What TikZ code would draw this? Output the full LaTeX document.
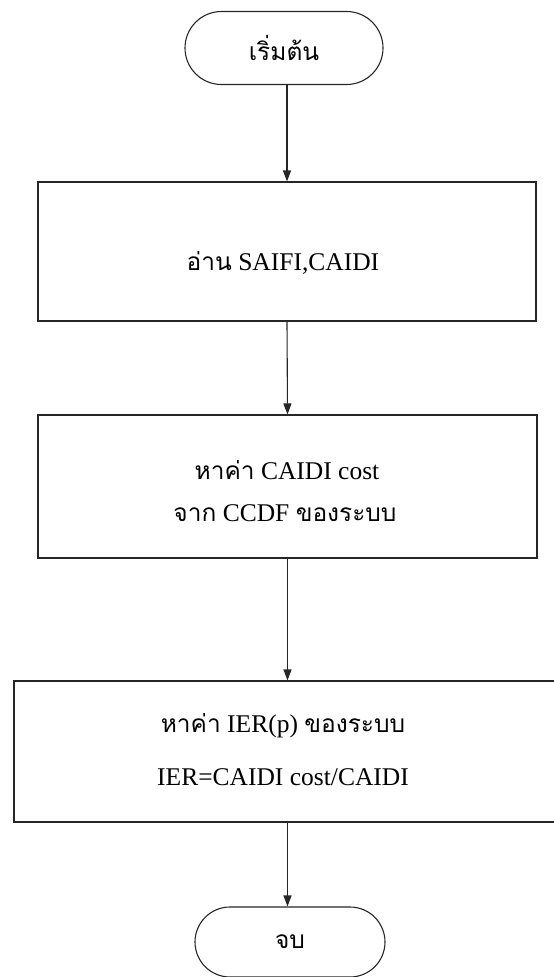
\documentclass[tikz,border=0pt]{standalone}
\usepackage{fontspec}
\setmainfont{Liberation Serif}
\newfontfamily\thai[Script=Thai,Scale=0.96]{Loma}
\usetikzlibrary{arrows.meta,shapes.misc}
\tikzset{
  line/.style={draw=black!85, line width=1.1pt},
  term/.style={line, rounded rectangle, minimum width=198pt, minimum height=73pt, inner sep=0pt},
  procbox/.style={line, rectangle, inner sep=0pt},
  txt/.style={font=\fontsize{25.5}{30}\selectfont, inner sep=0pt, anchor=center},
  flow/.style={line, -{Triangle[length=11pt,width=8pt]}}
}
\begin{document}
\begin{tikzpicture}[x=1pt,y=-1pt]
\useasboundingbox (0,0) rectangle (554,977);
\clip (0,0) rectangle (554,977);
\node[term] (start) at (284,48) {};
\node[txt] (tstart) at (284,48) {\thai เริ่มต้น};
\node[procbox, minimum width=498pt, minimum height=139pt] (b1) at (287,251.5) {};
\node[txt] (t1) at (283,263) {{\thai อ่าน} SAIFI,CAIDI};
\node[procbox, minimum width=499pt, minimum height=143pt] (b2) at (287.5,486.5) {};
\node[txt] (t2a) at (287,470) {{\thai หาค่า} CAIDI cost};
\node[txt] (t2b) at (285,513) {{\thai จาก} CCDF {\thai ของระบบ}};
\node[procbox, minimum width=560pt, minimum height=141pt] (b3) at (294,751.5) {};
\node[txt] (t3a) at (283,726) {{\thai หาค่า} IER(p) {\thai ของระบบ}};
\node[txt] (t3b) at (283,777) {IER=CAIDI cost/CAIDI};
\node[term, minimum width=190pt, minimum height=70pt] (end) at (290,942) {};
\node[txt] (tend) at (290,942) {\thai จบ};
\draw[flow] (start.south -| b1.north) -- (b1.north);
\draw[flow] (b1.south) -- (b2.north);
\draw[flow] (b2.south) -- (b2.south |- b3.north);
\draw[flow] (b2.south |- b3.south) -- (b2.south |- end.north);
\end{tikzpicture}
\end{document}
